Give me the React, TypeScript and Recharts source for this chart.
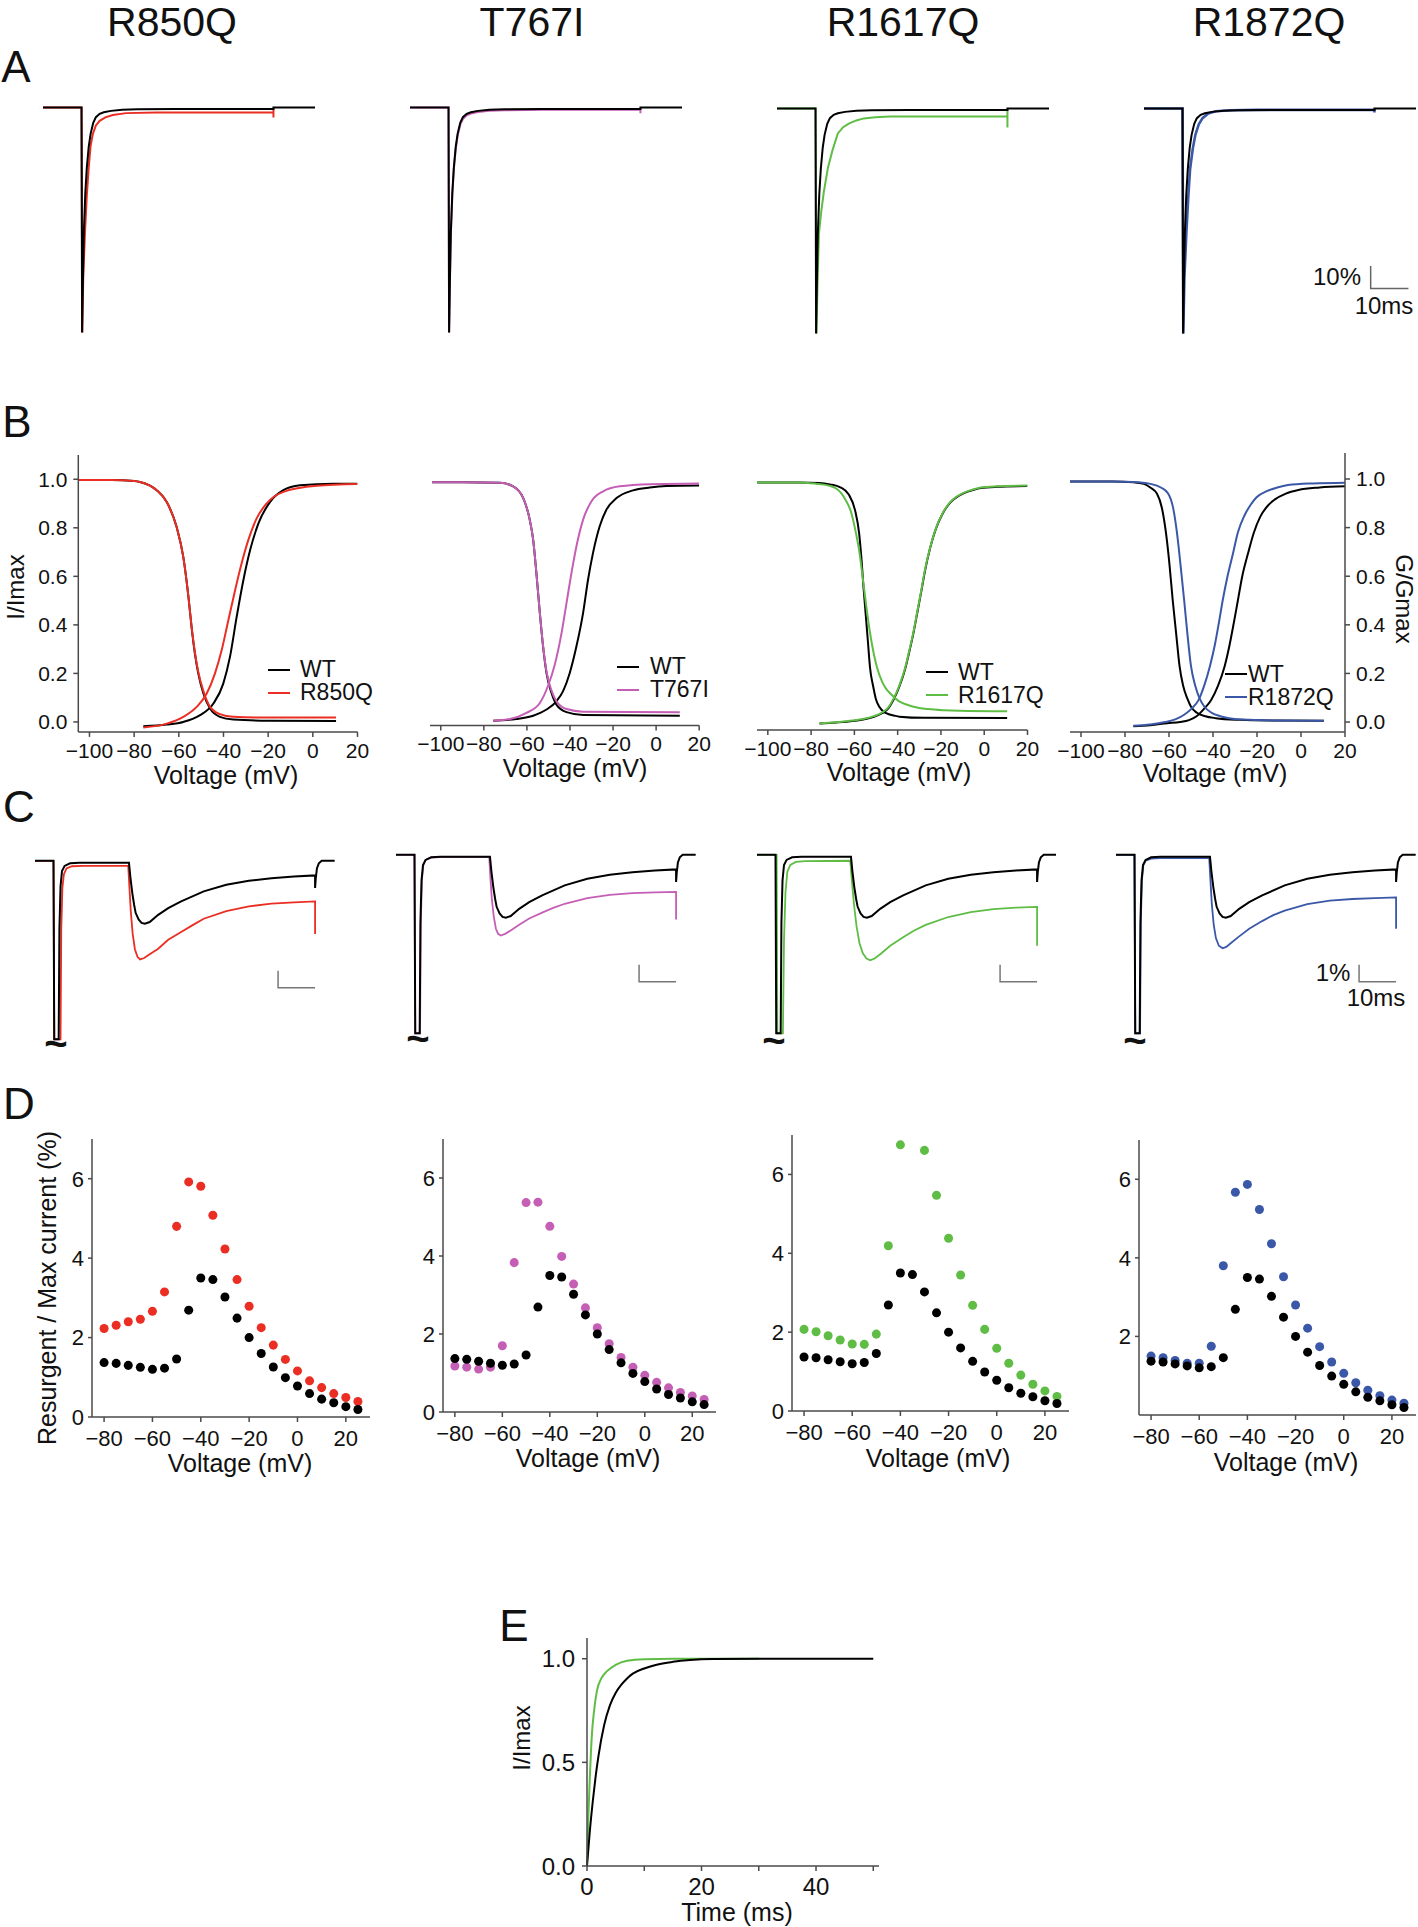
import React from 'react';
import { LineChart, Line, XAxis, YAxis, ScatterChart, Scatter, ZAxis, Legend } from 'recharts';

const FONT = '"Liberation Sans", Arial, Helvetica, sans-serif';
const AX = '#4a4a4a';
const RED = '#ea2e23';
const PINK = '#c55fb6';
const GREEN = '#5fbd45';
const BLUE = '#3b58a8';

const MUTANTS = ['R850Q', 'T767I', 'R1617Q', 'R1872Q'];
const COLORS = [RED, PINK, GREEN, BLUE];

// ---- A: normalised sodium current, time (ms) vs % of peak
const A_WT = [[0,0],[10.2,0],[10.35,-100],[10.55,-78],[10.8,-56],[11.2,-38],[11.6,-26.7],[12.1,-17.5],[12.6,-11.7],[13.3,-6.8],[14,-4.3],[15,-2.8],[16.1,-2.1],[18,-1.5],[21,-1],[25,-0.8],[35,-0.7],[61,-0.7],[61,0],[72,0]];
const A_R850Q = [[0,0],[10.2,0],[10.4,-100],[10.65,-76],[11.1,-56],[11.6,-39],[12.1,-26.7],[12.6,-17],[13.2,-11.7],[14,-8],[15,-5.9],[16.5,-4.4],[18.5,-3.3],[22,-2.5],[30,-2.2],[61,-2.2],[61,-0.4],[61,-4.4]];
const A_T767I = [[0,0],[10.2,0],[10.35,-100],[10.56,-78],[10.82,-56],[11.22,-38],[11.63,-27],[12.15,-18],[12.65,-12.2],[13.35,-7.4],[14.05,-5],[15,-3.5],[16.1,-2.7],[18,-2],[21,-1.5],[25,-1.2],[35,-1],[61,-1],[61,-0.4],[61,-2.6]];
const A_R1617Q = [[0,0],[10.2,0],[10.45,-100],[10.7,-80],[11.1,-55.6],[11.7,-46],[12.4,-37],[13.5,-26.2],[14.7,-18.5],[16.1,-11.1],[17.5,-8.3],[19,-6.7],[21,-5.3],[23,-4.4],[26,-3.9],[30,-3.6],[61,-3.6],[61,-0.3],[61,-8.4]];
const A_R1872Q = [[0,0],[10.2,0],[10.4,-100],[10.7,-75],[11.2,-56],[11.7,-40],[12.2,-27],[12.9,-18],[13.6,-11.7],[14.5,-7],[15.5,-4.3],[17,-2.2],[19,-1.2],[23,-0.8],[30,-0.6],[61,-0.6],[61,-0.2],[61,-1.8]];
const A_SCALE = [[60,-70],[60,-80],[70,-80]]; // 10 ms / 10 %

// ---- B: steady-state inactivation (I/Imax) and activation (G/Gmax) vs voltage (mV)
const INACT_WT_1 = [[-105,0.997],[-90,0.997],[-80,0.993],[-77.4,0.989],[-69.9,0.955],[-65.4,0.906],[-61,0.804],[-58,0.68],[-55.7,0.516],[-54.3,0.392],[-52.8,0.282],[-51.3,0.2],[-49,0.117],[-46,0.055],[-41.6,0.021],[-35.6,0.01],[-20,0.005],[10.4,0.004]];
const ACT_WT_1 = [[-75.9,-0.018],[-65.4,-0.011],[-58,0],[-50.5,0.028],[-44.5,0.076],[-40.1,0.158],[-37.1,0.268],[-34.1,0.433],[-31.1,0.584],[-28.1,0.707],[-24.4,0.817],[-19.2,0.906],[-13.2,0.955],[-5.7,0.975],[9.2,0.982],[20,0.982]];
const INACT_R850Q = [[-105,0.997],[-90,0.997],[-80,0.993],[-77.4,0.989],[-69.9,0.955],[-65.4,0.906],[-61,0.804],[-58,0.68],[-55.7,0.516],[-54.3,0.395],[-52.8,0.287],[-51.3,0.207],[-49,0.127],[-46,0.062],[-41.6,0.032],[-35.6,0.021],[-20,0.018],[10.4,0.018]];
const ACT_R850Q = [[-75.9,-0.023],[-65.4,-0.007],[-58,0.021],[-52,0.062],[-47.5,0.117],[-43.8,0.2],[-40.8,0.296],[-37.8,0.42],[-34.8,0.543],[-31.9,0.653],[-28.9,0.749],[-25.2,0.838],[-20.7,0.9],[-13.2,0.948],[1.7,0.973],[20,0.98]];

const INACT_WT_2 = [[-104,0.997],[-90,0.997],[-72.6,0.995],[-66.4,0.98],[-61.7,0.93],[-58.7,0.839],[-57.1,0.754],[-55.6,0.613],[-54,0.444],[-52.5,0.302],[-50.9,0.189],[-48.6,0.105],[-46.3,0.055],[-41.6,0.023],[-33.9,0.011],[11,0.008]];
const ACT_WT_2 = [[-75.7,-0.013],[-64.9,-0.006],[-57.1,0.008],[-50.9,0.034],[-46.3,0.069],[-43.2,0.112],[-40.1,0.189],[-37,0.302],[-33.9,0.444],[-31.6,0.585],[-29.3,0.698],[-26.2,0.811],[-23.1,0.881],[-18.4,0.93],[-10.7,0.963],[-2.9,0.975],[4.8,0.981],[20,0.983]];
const INACT_T767I = [[-104,0.997],[-90,0.997],[-72.6,0.995],[-66.4,0.98],[-61.7,0.93],[-58.7,0.839],[-57.1,0.754],[-55.6,0.613],[-54,0.444],[-52.5,0.305],[-50.9,0.195],[-48.6,0.115],[-46.3,0.069],[-41.6,0.036],[-33.9,0.025],[11,0.023]];
const ACT_T767I = [[-75.7,-0.013],[-67.9,-0.006],[-60.2,0.02],[-54,0.062],[-50.1,0.137],[-47.1,0.223],[-43.9,0.359],[-41.6,0.486],[-39.3,0.613],[-37,0.726],[-33.9,0.839],[-30,0.917],[-24.6,0.959],[-16.9,0.98],[-2.9,0.989],[20,0.992]];

const INACT_WT_3 = [[-105,0.99],[-85.7,0.99],[-76.1,0.988],[-71.3,0.982],[-66.5,0.97],[-62.6,0.94],[-59.7,0.876],[-57.8,0.78],[-56.6,0.66],[-55.8,0.56],[-54.7,0.44],[-53.7,0.33],[-52.8,0.23],[-51.3,0.15],[-50.1,0.1],[-48.5,0.067],[-45.3,0.04],[-41.4,0.03],[-39.2,0.026],[-27.9,0.021],[10.6,0.02]];
const ACT_WT_3 = [[-76.1,-0.002],[-68.4,0.002],[-60.7,0.008],[-54.9,0.016],[-51,0.025],[-47.2,0.04],[-44.3,0.06],[-41.9,0.095],[-39.2,0.15],[-36.6,0.22],[-34.7,0.29],[-32.7,0.37],[-30.8,0.46],[-28.9,0.55],[-27.5,0.62],[-25,0.72],[-22.5,0.795],[-19.3,0.86],[-16.4,0.9],[-14.2,0.92],[-9.6,0.945],[-4.8,0.96],[-1.5,0.967],[5.8,0.972],[20,0.975]];
const INACT_R1617Q = [[-105,0.99],[-85.7,0.99],[-78,0.985],[-72.2,0.978],[-68.4,0.965],[-66,0.945],[-64.2,0.92],[-61.6,0.87],[-59.7,0.8],[-57.8,0.71],[-55.9,0.58],[-53.9,0.44],[-52,0.33],[-49.6,0.23],[-47.2,0.17],[-45.3,0.14],[-43.3,0.12],[-39.5,0.09],[-35.6,0.075],[-32.7,0.067],[-26,0.057],[-18.3,0.052],[-11.5,0.05],[10.6,0.048]];
const ACT_R1617Q = [[-76.1,-0.002],[-68.4,0.003],[-60.7,0.01],[-54.9,0.018],[-51,0.028],[-47.2,0.043],[-44.3,0.064],[-41.9,0.1],[-39.2,0.155],[-36.6,0.225],[-34.7,0.295],[-32.7,0.375],[-30.8,0.465],[-28.9,0.555],[-27.5,0.625],[-25,0.722],[-22.5,0.797],[-19.3,0.862],[-16.4,0.902],[-14.2,0.922],[-9.6,0.947],[-4.8,0.962],[-1.5,0.969],[5.8,0.974],[20,0.977]];

const INACT_WT_4 = [[-105,0.99],[-85.8,0.99],[-76.2,0.987],[-71.4,0.98],[-68.5,0.965],[-65.5,0.94],[-63.2,0.88],[-61.4,0.78],[-59.8,0.65],[-58.3,0.5],[-56.7,0.36],[-55.2,0.23],[-53.6,0.15],[-51.6,0.095],[-50,0.063],[-47.3,0.038],[-43.5,0.024],[-38.7,0.016],[-28.1,0.009],[-13.7,0.006],[10.4,0.005]];
const ACT_WT_4 = [[-76.2,-0.017],[-68.5,-0.013],[-60.8,-0.005],[-55,0],[-50.9,0.008],[-47.3,0.025],[-44,0.055],[-40.9,0.09],[-37.7,0.15],[-34.7,0.23],[-32.4,0.32],[-30.5,0.41],[-28.7,0.5],[-26.7,0.6],[-24.2,0.69],[-21.4,0.78],[-18.5,0.845],[-15.1,0.89],[-12,0.915],[-6.9,0.94],[-1.2,0.955],[8.5,0.965],[20,0.97]];
const INACT_R1872Q = [[-105,0.99],[-85.8,0.99],[-76.2,0.988],[-68.5,0.98],[-63.7,0.965],[-60.4,0.94],[-58.1,0.88],[-56.4,0.78],[-54.8,0.65],[-53.1,0.5],[-51.6,0.36],[-50,0.23],[-48.1,0.15],[-46,0.095],[-43.9,0.063],[-40.6,0.038],[-36.7,0.024],[-32.7,0.016],[-23.3,0.009],[-8.9,0.006],[10.4,0.005]];
const ACT_R1872Q = [[-76.2,-0.015],[-68.5,-0.01],[-61.7,0],[-56.9,0.012],[-53.1,0.03],[-49.7,0.055],[-46.6,0.09],[-44,0.15],[-41.4,0.23],[-39.1,0.32],[-37.3,0.41],[-35.6,0.5],[-33.4,0.6],[-31,0.69],[-28.7,0.78],[-25.7,0.85],[-22.8,0.895],[-20.2,0.925],[-15.6,0.95],[-10.8,0.965],[-5.9,0.975],[5.6,0.982],[20,0.985]];

const B_XTICKS = [-100, -80, -60, -40, -20, 0, 20];
const B_YTICKS = [0, 0.2, 0.4, 0.6, 0.8, 1.0];

// ---- C: resurgent current traces, time (ms) vs % of peak
const C_WT = [[0,0],[5,0],[5.2,-10.5],[6.4,-10.5],[6.6,-4],[6.9,-1.5],[7.3,-0.6],[8,-0.3],[9.5,-0.15],[12,-0.12],[25.4,-0.12],[25.8,-1],[26.3,-1.9],[26.8,-2.6],[27.2,-3.06],[28,-3.45],[28.8,-3.65],[29.7,-3.7],[31,-3.6],[33.3,-3.18],[36,-2.78],[39.5,-2.39],[45.6,-1.8],[51.7,-1.41],[57.8,-1.18],[63.9,-1.02],[70,-0.92],[75.7,-0.86],[75.7,-1.6],[75.9,-1],[76.2,-0.45],[76.7,-0.15],[77.5,0],[81,0]];
const C_R850Q = [[0,0],[5,0],[5.2,-10.5],[6.9,-10.5],[7.1,-4],[7.4,-1.6],[7.8,-0.8],[8.5,-0.45],[10,-0.32],[13,-0.3],[25.2,-0.3],[25.5,-1.5],[25.9,-3],[26.4,-4.3],[27,-5.2],[27.7,-5.65],[28.4,-5.8],[29.5,-5.72],[31,-5.5],[33.3,-5.17],[36,-4.65],[39.5,-4.19],[42.5,-3.8],[45.6,-3.41],[51.7,-2.96],[57.8,-2.68],[63.9,-2.52],[70,-2.45],[75.7,-2.39],[75.7,-4.3]];
const C_T767I = [[0,0],[5,0],[5.2,-10.5],[6.5,-10.5],[6.7,-4],[7,-1.5],[7.4,-0.6],[8,-0.3],[9.5,-0.17],[12,-0.13],[25.2,-0.13],[25.5,-1.3],[25.9,-2.6],[26.4,-3.6],[27,-4.35],[27.6,-4.65],[28.3,-4.75],[29.5,-4.65],[31,-4.45],[33.3,-4.12],[36,-3.75],[39.5,-3.4],[42.5,-3.12],[45.6,-2.88],[51.7,-2.55],[57.8,-2.36],[63.9,-2.26],[70,-2.21],[75.7,-2.18],[75.7,-3.8]];
const C_R1617Q = [[0,0],[5.3,0],[5.5,-10.5],[7,-10.5],[7.3,-5],[7.7,-2.2],[8.2,-1],[9,-0.6],[10.5,-0.42],[13,-0.37],[25.2,-0.35],[25.6,-1.4],[26.2,-2.9],[26.9,-4.2],[27.7,-5.2],[28.6,-5.8],[29.6,-6.1],[30.6,-6.2],[31.8,-6.1],[33.3,-5.85],[36,-5.35],[39.5,-4.85],[42.5,-4.45],[45.6,-4.12],[51.7,-3.66],[57.8,-3.37],[63.9,-3.2],[70,-3.11],[75.7,-3.06],[75.7,-5.35]];
const C_R1872Q = [[0,0],[5,0],[5.2,-10.5],[6.5,-10.5],[6.7,-4],[7,-1.5],[7.4,-0.6],[8,-0.35],[9.5,-0.22],[12,-0.2],[25.2,-0.2],[25.5,-1.4],[25.9,-2.9],[26.4,-4.1],[27,-4.9],[27.8,-5.35],[28.8,-5.5],[29.8,-5.42],[31,-5.2],[33.3,-4.8],[36,-4.35],[39.5,-3.9],[42.5,-3.55],[45.6,-3.28],[51.7,-2.9],[57.8,-2.7],[63.9,-2.6],[70,-2.55],[75.7,-2.51],[75.7,-4.35]];
const C_SCALE = [[65.7,-6.47],[65.7,-7.47],[75.7,-7.47]]; // 10 ms / 1 %

// ---- D: resurgent / max current (%) vs voltage (mV)
const D_V = [-80,-75,-70,-65,-60,-55,-50,-45,-40,-35,-30,-25,-20,-15,-10,-5,0,5,10,15,20,25];
const D_WT = [1.37,1.35,1.3,1.25,1.2,1.23,1.46,2.69,3.5,3.46,3.02,2.49,2.0,1.6,1.26,0.99,0.78,0.59,0.45,0.36,0.26,0.19];
const D_R850Q = [2.23,2.31,2.4,2.46,2.66,3.15,4.8,5.92,5.81,5.08,4.23,3.46,2.79,2.25,1.81,1.45,1.16,0.91,0.74,0.59,0.49,0.39];
const D_T767I = [1.18,1.15,1.1,1.15,1.7,3.83,5.37,5.38,4.76,3.99,3.28,2.67,2.16,1.75,1.4,1.15,0.94,0.76,0.62,0.5,0.41,0.32];
const D_R1617Q = [2.07,2.01,1.91,1.8,1.7,1.69,1.95,4.19,6.75,null,6.61,5.47,4.38,3.45,2.68,2.07,1.59,1.21,0.91,0.68,0.51,0.37];
const D_R1872Q = [1.5,1.46,1.39,1.32,1.32,1.75,3.8,5.67,5.87,5.23,4.36,3.52,2.8,2.21,1.74,1.35,1.06,0.82,0.63,0.49,0.38,0.3];
const D_XTICKS = [-80, -60, -40, -20, 0, 20];

// ---- E: recovery from inactivation, time (ms) vs I/Imax
const E_WT = [[0,0],[0.5,0.17],[1,0.31],[1.5,0.43],[2,0.53],[3,0.68],[4,0.775],[5,0.835],[6,0.875],[7,0.905],[8,0.928],[10,0.953],[12,0.97],[15,0.985],[18,0.994],[22,0.999],[30,1],[40,1],[50,1]];
const E_R1617Q = [[0,0],[0.25,0.25],[0.5,0.43],[0.87,0.64],[1.2,0.74],[1.74,0.846],[2.5,0.905],[3.5,0.94],[5,0.97],[7,0.99],[10,0.998],[15,1],[30,1]];
const E_XTICKS = [0, 10, 20, 30, 40, 50];

const A_MUT = [A_R850Q, A_T767I, A_R1617Q, A_R1872Q];
const C_MUT = [C_R850Q, C_T767I, C_R1617Q, C_R1872Q];
const INACT_WT = [INACT_WT_1, INACT_WT_2, INACT_WT_3, INACT_WT_4];
const ACT_WT = [ACT_WT_1, ACT_WT_2, ACT_WT_3, ACT_WT_4];
const INACT_MUT = [INACT_R850Q, INACT_T767I, INACT_R1617Q, INACT_R1872Q];
const ACT_MUT = [ACT_R850Q, ACT_T767I, ACT_R1617Q, ACT_R1872Q];
const D_MUT = [D_R850Q, D_T767I, D_R1617Q, D_R1872Q];

const pts = (a: number[][]) => a.map(([x, y]) => ({ x, y }));
const dpts = (ys: (number | null)[]) =>
  D_V.map((x, k) => ({ x, y: ys[k] })).filter((p) => p.y !== null);
const minus = (v: number) => (v < 0 ? `\u2212${Math.abs(v)}` : String(v));

// layout
const A_X = [43, 410, 777, 1144];
const A_BASE = [107, 107, 108, 108];
const C_X = [35, 396, 756.5, 1116];
const C_BASE = [861, 855, 855, 855];
const B_BOX = [
  { x: 78.3, y: 454.8, w: 279.2, h: 276.9, yMin: -0.041, yMax: 1.1, axis: 'left' },
  { x: 430.2, y: 458.4, w: 269.2, h: 267.6, yMin: -0.034, yMax: 1.1, axis: 'none' },
  { x: 756.5, y: 454, w: 270.5, h: 276, yMin: -0.029, yMax: 1.107, axis: 'none' },
  { x: 1070, y: 453, w: 275, h: 279, yMin: -0.041, yMax: 1.107, axis: 'right' },
];
const B_LEG = [
  { x: 268, y: 670, gap: 10 },
  { x: 617, y: 667, gap: 11 },
  { x: 926, y: 672, gap: 10 },
  { x: 1225, y: 674, gap: 1 },
];
const D_BOX = [
  { x: 92, y: 1139, w: 278, h: 278 },
  { x: 443, y: 1139, w: 273, h: 273 },
  { x: 792, y: 1135, w: 277, h: 276 },
  { x: 1139, y: 1140, w: 277, h: 275 },
];

const axisLine = { stroke: AX, strokeWidth: 1.5 };
const tickFont = (size: number) => ({ fontSize: size, fill: '#111', fontFamily: FONT });

const Txt = ({ x, y, size = 24, rot = 0, bold = false, children }: any) => (
  <div
    style={{
      position: 'absolute', left: x, top: y, transform: `translate(-50%, -50%) rotate(${rot}deg)`,
      fontSize: size, lineHeight: 1, whiteSpace: 'nowrap', fontFamily: FONT, color: '#111',
      fontWeight: bold ? 700 : 400,
    }}
  >
    {children}
  </div>
);

type Series = { data: number[][]; color: string; w?: number };

function Traces({ left, top, width, height, xMax, yDomain, series }: {
  left: number; top: number; width: number; height: number; xMax: number; yDomain: number[]; series: Series[];
}) {
  return (
    <div style={{ position: 'absolute', left, top }}>
      <LineChart width={width} height={height} margin={{ top: 0, right: 0, bottom: 0, left: 0 }}>
        <XAxis type="number" dataKey="x" domain={[0, xMax]} hide />
        <YAxis type="number" domain={yDomain} hide />
        {series.map((s, k) => (
          <Line key={k} data={pts(s.data)} dataKey="y" type="linear" stroke={s.color}
            strokeWidth={s.w ?? 2} dot={false} isAnimationActive={false} />
        ))}
      </LineChart>
    </div>
  );
}

const LegendRows = ({ payload, gap }: any) => {
  const rows = (payload || [])
    .filter((p: any) => p.type !== 'none')
    .sort((a: any, b: any) => (a.value === 'WT' ? -1 : b.value === 'WT' ? 1 : 0));
  return (
    <div style={{ fontFamily: FONT, fontSize: 23, color: '#111' }}>
      {rows.map((p: any) => (
        <div key={p.value} style={{ display: 'flex', alignItems: 'center', height: 23, lineHeight: '23px' }}>
          <span style={{ display: 'inline-block', width: 22, height: 2, background: p.color, marginRight: gap }} />
          <span>{p.value}</span>
        </div>
      ))}
    </div>
  );
};

function BPanel({ i }: { i: number }) {
  const b = B_BOX[i];
  const leg = B_LEG[i];
  const padL = b.axis === 'left' ? b.x : 12;
  const padR = b.axis === 'right' ? 60 : 12;
  const padT = 12;
  const padB = 40;
  const ox = b.x - padL;
  const oy = b.y - padT;
  const yDomain = [b.yMin, b.yMax];
  const line = { dataKey: 'y', type: 'monotone' as const, strokeWidth: 2, dot: false, isAnimationActive: false };
  return (
    <div style={{ position: 'absolute', left: ox, top: oy }}>
      <LineChart
        width={padL + b.w + padR}
        height={padT + b.h + padB}
        margin={{ top: padT, bottom: 0, left: b.axis === 'left' ? 0 : padL, right: b.axis === 'right' ? 0 : padR }}
      >
        <XAxis type="number" dataKey="x" domain={[-105, 20]} ticks={B_XTICKS} interval={0} height={padB}
          tickFormatter={minus} tickSize={5} tickMargin={6} axisLine={axisLine} tickLine={axisLine}
          tick={tickFont(21)} allowDataOverflow />
        {b.axis === 'none' ? (
          <YAxis type="number" domain={yDomain} hide allowDataOverflow />
        ) : (
          <YAxis type="number" orientation={b.axis as 'left' | 'right'} width={b.axis === 'left' ? padL : padR}
            domain={yDomain} ticks={B_YTICKS} interval={0} tickFormatter={(v: number) => v.toFixed(1)}
            tickSize={5} tickMargin={6} axisLine={axisLine} tickLine={axisLine} tick={tickFont(21)} allowDataOverflow />
        )}
        <Line data={pts(INACT_WT[i])} name="WT" stroke="#000" {...line} />
        <Line data={pts(ACT_WT[i])} legendType="none" stroke="#000" {...line} />
        <Line data={pts(INACT_MUT[i])} name={MUTANTS[i]} stroke={COLORS[i]} {...line} />
        <Line data={pts(ACT_MUT[i])} legendType="none" stroke={COLORS[i]} {...line} />
        <Legend
          layout="vertical" verticalAlign="middle" align="center"
          wrapperStyle={{ left: leg.x - ox, top: leg.y - 11.5 - oy, width: 'auto', height: 'auto' }}
          content={(p: any) => <LegendRows payload={p.payload} gap={leg.gap} />}
        />
      </LineChart>
    </div>
  );
}

function DPanel({ i }: { i: number }) {
  const b = D_BOX[i];
  const padL = 40;
  const padR = 1;
  const padT = 10;
  const padB = 40;
  return (
    <div style={{ position: 'absolute', left: b.x - padL, top: b.y - padT }}>
      <ScatterChart width={padL + b.w + padR} height={padT + b.h + padB} margin={{ top: padT, right: padR, bottom: 0, left: 0 }}>
        <XAxis type="number" dataKey="x" domain={[-85, 30]} ticks={D_XTICKS} interval={0} height={padB}
          tickFormatter={minus} tickSize={5} tickMargin={8} axisLine={axisLine} tickLine={axisLine}
          tick={tickFont(22)} allowDataOverflow />
        <YAxis type="number" dataKey="y" domain={[0, 7]} ticks={i === 3 ? [2, 4, 6] : [0, 2, 4, 6]} interval={0}
          width={padL} tickSize={4} tickMargin={4} axisLine={axisLine} tickLine={axisLine} tick={tickFont(22)} allowDataOverflow />
        <ZAxis range={[60, 60]} />
        <Scatter data={dpts(D_MUT[i])} fill={COLORS[i]} isAnimationActive={false} />
        <Scatter data={dpts(D_WT)} fill="#000" isAnimationActive={false} />
      </ScatterChart>
    </div>
  );
}

function EPanel() {
  const box = { x: 587, y: 1638, w: 292, h: 228 };
  const padL = 50;
  const padR = 10;
  const padT = 10;
  const padB = 40;
  return (
    <div style={{ position: 'absolute', left: box.x - padL, top: box.y - padT }}>
      <LineChart width={padL + box.w + padR} height={padT + box.h + padB} margin={{ top: padT, right: padR, bottom: 0, left: 0 }}>
        <XAxis type="number" dataKey="x" domain={[0, 51]} ticks={E_XTICKS} interval={0} height={padB}
          tickFormatter={(v: number) => (v % 20 === 0 ? String(v) : '')}
          tickSize={5} tickMargin={7} axisLine={axisLine} tickLine={axisLine} tick={tickFont(24)} />
        <YAxis type="number" domain={[0, 1.1]} ticks={[0, 0.5, 1]} interval={0} width={padL}
          tickFormatter={(v: number) => v.toFixed(1)}
          tickSize={5} tickMargin={7} axisLine={axisLine} tickLine={axisLine} tick={tickFont(24)} />
        <Line data={pts(E_R1617Q)} dataKey="y" type="monotone" stroke={GREEN} strokeWidth={2} dot={false} isAnimationActive={false} />
        <Line data={pts(E_WT)} dataKey="y" type="monotone" stroke="#000" strokeWidth={2} dot={false} isAnimationActive={false} />
      </LineChart>
    </div>
  );
}

const TITLE_X = [172, 532, 903, 1269];
const B_XLABEL = [[226, 775], [575, 768], [899, 772], [1215, 773]];
const D_XLABEL = [[240, 1463], [588, 1458], [938, 1458], [1286, 1462]];
const BREAK_POS = [[56, 1043], [418, 1038], [774, 1040], [1135, 1040]];

export default function App() {
  return (
    <div style={{ position: 'relative', width: 1418, height: 1927, background: '#fff', fontFamily: FONT, overflow: 'hidden' }}>
      <style>{'body{margin:0;background:#fff}'}</style>

      {MUTANTS.map((m, i) => (
        <Txt key={m} x={TITLE_X[i]} y={22} size={41}>{m}</Txt>
      ))}
      <Txt x={16} y={67} size={44}>A</Txt>
      <Txt x={17} y={422} size={44}>B</Txt>
      <Txt x={19} y={807} size={44}>C</Txt>
      <Txt x={19} y={1104} size={44}>D</Txt>
      <Txt x={514} y={1626} size={44}>E</Txt>

      {/* A */}
      {A_MUT.map((m, i) => (
        <Traces key={`a${i}`} left={A_X[i]} top={A_BASE[i] - 4.5} width={272} height={234} xMax={72} yDomain={[-102, 2]}
          series={[
            { data: m, color: COLORS[i], w: i === 3 ? 2.6 : 2 },
            { data: A_WT, color: '#000' },
            ...(i === 3 ? [{ data: A_SCALE, color: '#666', w: 1.5 }] : []),
          ]} />
      ))}
      <Txt x={1337} y={277} size={24}>10%</Txt>
      <Txt x={1384} y={306} size={24}>10ms</Txt>

      {/* B */}
      {[0, 1, 2, 3].map((i) => <BPanel key={`b${i}`} i={i} />)}
      <Txt x={16} y={587} size={24} rot={-90}>I/Imax</Txt>
      <Txt x={1404} y={599} size={24} rot={90}>G/Gmax</Txt>
      {B_XLABEL.map(([x, y], i) => <Txt key={`bl${i}`} x={x} y={y} size={25}>Voltage (mV)</Txt>)}

      {/* C */}
      {C_MUT.map((m, i) => (
        <Traces key={`c${i}`} left={C_X[i]} top={C_BASE[i] - 6.8} width={299.7} height={190.4} xMax={81} yDomain={[-10.8, 0.4]}
          series={[
            { data: m, color: COLORS[i], w: 1.8 },
            { data: C_WT, color: '#000' },
            { data: C_SCALE, color: '#777', w: 1.5 },
          ]} />
      ))}
      {BREAK_POS.map(([x, y], i) => <Txt key={`br${i}`} x={x} y={y} size={40} bold>~</Txt>)}
      <Txt x={1333} y={973} size={24}>1%</Txt>
      <Txt x={1376} y={998} size={24}>10ms</Txt>

      {/* D */}
      {[0, 1, 2, 3].map((i) => <DPanel key={`d${i}`} i={i} />)}
      <Txt x={47} y={1288} size={25} rot={-90}>Resurgent / Max current (%)</Txt>
      {D_XLABEL.map(([x, y], i) => <Txt key={`dl${i}`} x={x} y={y} size={25}>Voltage (mV)</Txt>)}

      {/* E */}
      <EPanel />
      <Txt x={522} y={1738} size={24} rot={-90}>I/Imax</Txt>
      <Txt x={737} y={1912} size={25}>Time (ms)</Txt>
    </div>
  );
}
